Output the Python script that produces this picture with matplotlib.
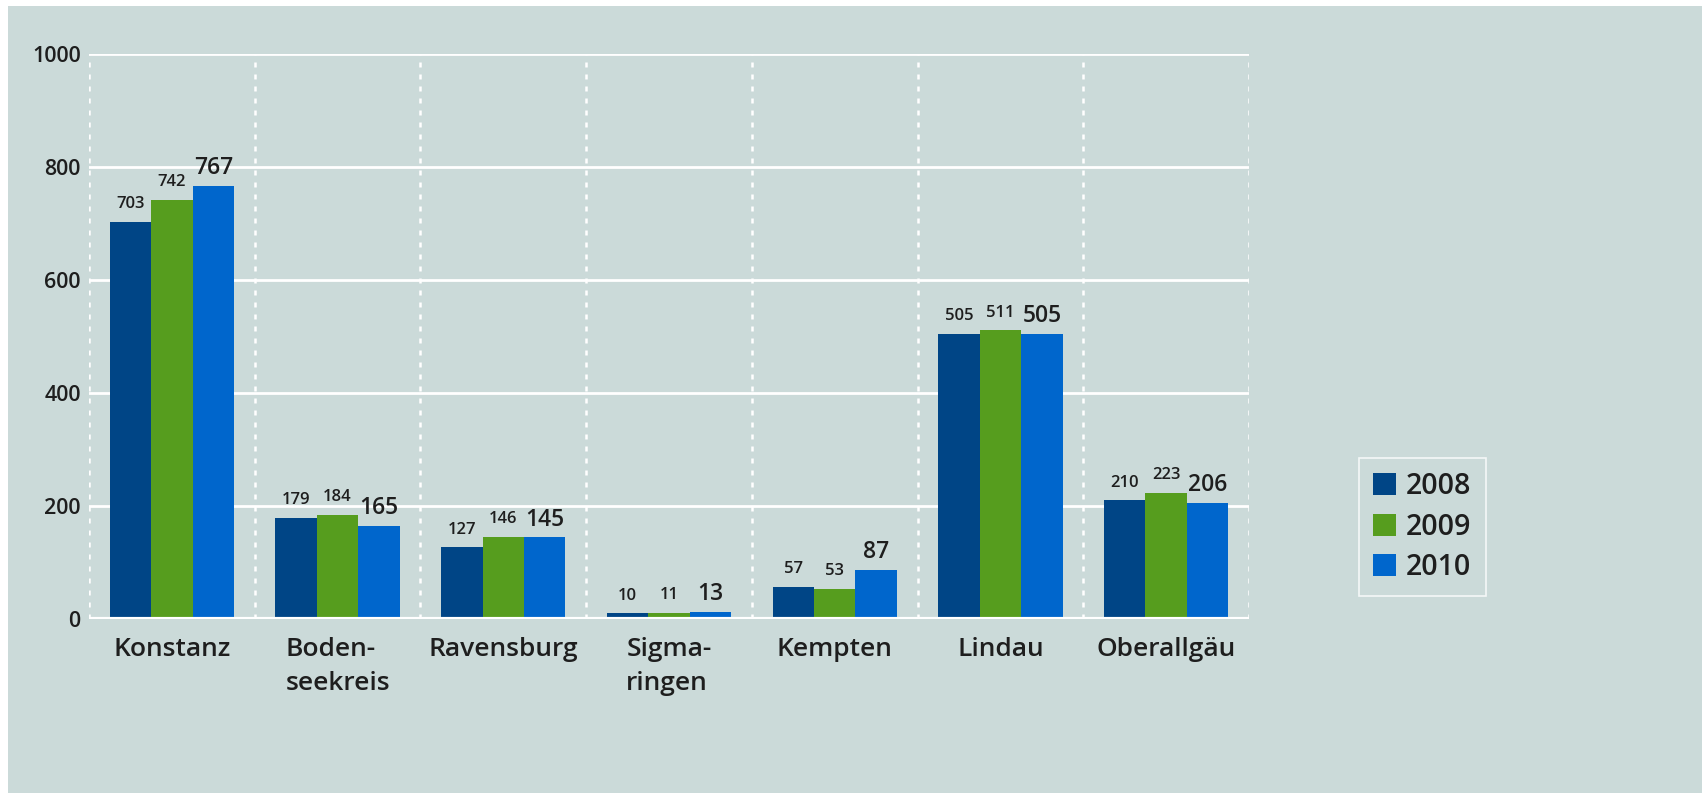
import matplotlib.pyplot as plt
import numpy as np
from matplotlib.patches import Rectangle

plt.rcParams['font.family'] = ['Open Sans', 'DejaVu Sans']

regions = ['Konstanz', 'Boden-\nseekreis', 'Ravensburg', 'Sigma-\nringen',
           'Kempten', 'Lindau', 'Oberallgäu']
years = ['2008', '2009', '2010']
v2008 = [703, 179, 127, 10, 57, 505, 210]
v2009 = [742, 184, 146, 11, 53, 511, 223]
v2010 = [767, 165, 145, 13, 87, 505, 206]
y_ticks = [0, 200, 400, 600, 800, 1000]

colors = ['#004586', '#569d1e', '#0066cc']
bg = '#cbdad9'
txt = '#1e1e1e'
wt = 'semibold'

fig = plt.figure(figsize=(17.02, 7.93), dpi=100, facecolor='white')
fig.patches.append(Rectangle((8 / 1702, 0), 1 - 8 / 1702, 1 - 6 / 793,
                             transform=fig.transFigure, facecolor=bg,
                             edgecolor='none', zorder=-10))
ax = fig.add_axes([89 / 1702, 1 - 619 / 793, 1160 / 1702, 565 / 793])
ax.set_facecolor('none')

x = np.arange(len(regions))
w = 0.25
series = [v2008, v2009, v2010]
for i, (vals, c, yr) in enumerate(zip(series, colors, years)):
    bars = ax.bar(x + (i - 1) * w, vals, w, color=c, label=yr, zorder=3)
    big = (i == 2)
    for b, v in zip(bars, vals):
        ax.annotate(str(v), (b.get_x() + b.get_width() / 2, v),
                    xytext=(0, 4 if big else 7), textcoords='offset points',
                    ha='center', va='bottom', color=txt,
                    fontsize=16.5 if big else 12, fontweight=wt)

ax.set_xlim(-0.5, len(regions) - 0.5)
ax.set_ylim(0, 1000)
ax.set_yticks(y_ticks)
ax.set_yticklabels([str(t) for t in y_ticks], fontsize=15.5, color=txt,
                   fontweight=wt)
ax.set_xticks(x)
ax.set_xticklabels(regions, fontsize=19, color=txt, linespacing=1.45,
                   fontweight=wt, multialignment='left')
ax.tick_params(length=0)
ax.tick_params(axis='x', pad=13)
ax.tick_params(axis='y', pad=6)

# gridlines
for t in y_ticks[1:]:
    ax.axhline(t, color='white', lw=2, zorder=1)
ax.axhline(0, color='white', lw=3, zorder=4)
for b in np.arange(-0.5, len(regions), 1.0):
    ax.axvline(b, color='white', lw=1.8, ls=(0, (2, 2.8)), zorder=1)
for s in ax.spines.values():
    s.set_visible(False)

leg = ax.legend(loc='upper left', bbox_to_anchor=(1359 / 1702, 1 - 458 / 793),
                bbox_transform=fig.transFigure, frameon=True,
                fancybox=False, handlelength=0.8, handleheight=0.8,
                handletextpad=0.35, labelspacing=0.4, borderpad=0.5,
                borderaxespad=0, prop={'size': 20.5, 'weight': wt})
leg.get_frame().set_facecolor(bg)
leg.get_frame().set_edgecolor('white')
leg.get_frame().set_linewidth(1.2)
for t in leg.get_texts():
    t.set_color(txt)

fig.savefig('out.png', dpi=100, facecolor='white')
